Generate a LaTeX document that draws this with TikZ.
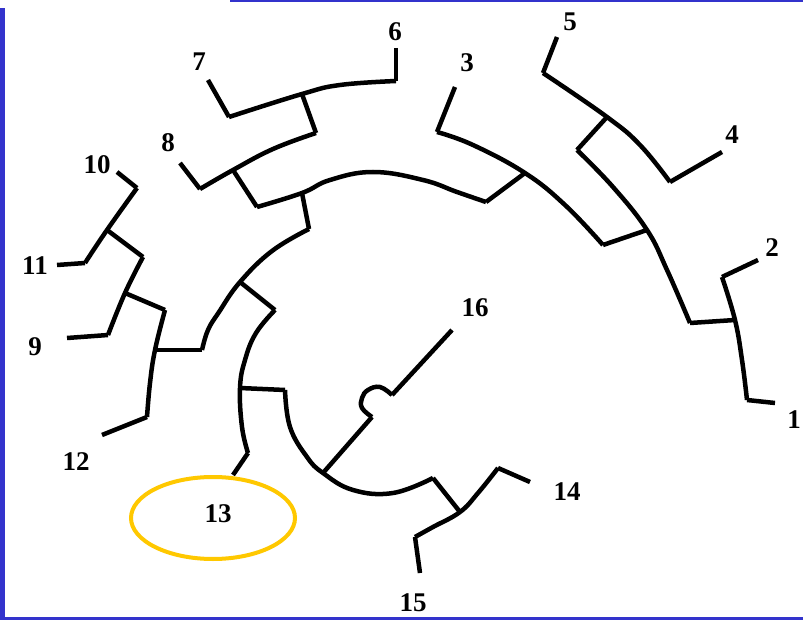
\documentclass[tikz,border=0pt]{standalone}
\usepackage{fontspec}
\setmainfont{Liberation Serif}
\definecolor{frameblue}{RGB}{51,51,204}
\definecolor{ringgold}{RGB}{255,200,0}

\begin{document}
\begin{tikzpicture}[x=1pt,y=-1pt]
\tikzset {branch/.style={line width=4.5pt,black},
          arc/.style={smooth,tension=0.7},
          leaf/.style={font=\bfseries\fontsize{27}{27}\selectfont,inner sep=0pt} }
\useasboundingbox (0,0) rectangle (803,620);
% frame
\fill[frameblue] (0,8) rectangle (5,620);
\fill[frameblue] (230,0) rectangle (803,2.5);
\fill[frameblue] (0,617) rectangle (803,620);
% leaf tips and bases
\coordinate (t1) at (775,403);  \coordinate (b1) at (747,400);
\coordinate (t2) at (758,260);  \coordinate (b2) at (722,277);
\coordinate (t3) at (455,87);   \coordinate (b3) at (437,132);
\coordinate (t4) at (722,152);  \coordinate (b4) at (670,182);
\coordinate (t5) at (557,37);   \coordinate (b5) at (543,73);
\coordinate (t6) at (396,48);   \coordinate (b6) at (396,81);
\coordinate (t7) at (208,80);   \coordinate (b7) at (229,117);
\coordinate (t8) at (180,163);  \coordinate (b8) at (200,189);
\coordinate (t9) at (67,338);   \coordinate (b9) at (108,335);
\coordinate (t10) at (117,172); \coordinate (b10) at (137,188);
\coordinate (t11) at (57,265);  \coordinate (b11) at (85,263);
\coordinate (t12) at (102,435); \coordinate (b12) at (147,417);
\coordinate (t13) at (233,475); \coordinate (b13) at (248,453);
\coordinate (t14) at (530,482); \coordinate (b14) at (498,468);
\coordinate (t15) at (420,573); \coordinate (b15) at (415,537);
\coordinate (t16) at (452,330);
% inner vertices
\coordinate (j67) at (302,94);   \coordinate (s678) at (316,133); \coordinate (j678) at (233,170);
\coordinate (stop) at (257,207); \coordinate (jtop) at (302,193); \coordinate (etop) at (486,202);
\coordinate (j3) at (525,173);   \coordinate (e3) at (603,245);
\coordinate (j45) at (607,117);  \coordinate (s12r) at (577,150); \coordinate (jr) at (647,230);
\coordinate (e12r) at (690,323); \coordinate (j12) at (735,320);
\coordinate (sl) at (309,229);   \coordinate (jl) at (240,282);   \coordinate (el) at (202,350);
\coordinate (j912) at (155,350); \coordinate (s912) at (165,310);
\coordinate (j911) at (125,293); \coordinate (s911) at (143,257);
\coordinate (j1011) at (107,230);
\coordinate (s13) at (275,310);  \coordinate (j13) at (240,388);
\coordinate (s14) at (285,390);  \coordinate (j16) at (323,473);  \coordinate (e14) at (433,478);
\coordinate (j1415) at (460,512);
\coordinate (w1) at (372,417);   \coordinate (w2) at (392,395);
% leaves
\foreach \i in {1,...,15} \draw[branch] (t\i) -- (b\i);
% arcs
\draw[branch] plot[arc] coordinates {(b7) (j67) (340,85) (b6)};
\draw[branch] plot[arc] coordinates {(s678) (273,149) (j678) (b8)};
\draw[branch] plot[arc] coordinates {(stop) (jtop) (330,180) (373,172) (423,180) (457,192) (etop)};
\draw[branch] plot[arc] coordinates {(b3) (473,145) (j3) (565,205) (e3)};
\draw[branch] plot[arc] coordinates {(b5) (j45) (640,145) (b4)};
\draw[branch] plot[arc] coordinates {(s12r) (613,187) (jr) (667,270) (e12r)};
\draw[branch] plot[arc] coordinates {(b2) (j12) (742,360) (b1)};
\draw[branch] plot[arc] coordinates {(sl) (272,251) (jl) (219,312) (208,330) (el)};
\draw[branch] plot[arc] coordinates {(s912) (j912) (150,383) (b12)};
\draw[branch] plot[arc] coordinates {(s911) (j911) (b9)};
\draw[branch] plot[arc] coordinates {(b10) (j1011) (b11)};
\draw[branch] plot[arc] coordinates {(s13) (256,333) (245,360) (j13) (242,427) (b13)};
\draw[branch] plot[arc] coordinates {(s14) (290,427) (307,457) (j16) (353,490) (393,493) (e14)};
\draw[branch] plot[arc] coordinates {(b14) (478,493) (j1415) (433,527) (b15)};
% stems
\draw[branch] (j67) -- (s678);
\draw[branch] (j678) -- (stop);
\draw[branch] (etop) -- (j3);
\draw[branch] (e3) -- (jr);
\draw[branch] (j45) -- (s12r);
\draw[branch] (e12r) -- (j12);
\draw[branch] (jtop) -- (sl);
\draw[branch] (el) -- (j912);
\draw[branch] (j911) -- (s912);
\draw[branch] (j1011) -- (s911);
\draw[branch] (jl) -- (s13);
\draw[branch] (j13) -- (s14);
\draw[branch] (e14) -- (j1415);
% branch 16 with its loop
\draw[branch] (j16) -- (w1);
\draw[branch] plot[arc] coordinates {(w1) (362,408) (362,398) (368,390) (380,387) (w2)};
\draw[branch] (w2) -- (t16);
% labels
\node[leaf] (l1) at (794,420) {1};
\node[leaf] (l2) at (772,248) {2};
\node[leaf] (l3) at (467,63) {3};
\node[leaf] (l4) at (732,135) {4};
\node[leaf] (l5) at (570,22) {5};
\node[leaf] (l6) at (395,32) {6};
\node[leaf] (l7) at (199,62) {7};
\node[leaf] (l8) at (168,143) {8};
\node[leaf] (l9) at (35,347) {9};
\node[leaf] (l10) at (97,165) {10};
\node[leaf] (l11) at (35,266) {11};
\node[leaf] (l12) at (76,462) {12};
\node[leaf] (l13) at (218,514) {13};
\node[leaf] (l14) at (567,492) {14};
\node[leaf] (l15) at (413,603) {15};
\node[leaf] (l16) at (475,308) {16};
% highlight
\draw[ringgold,line width=4pt] (213,518) ellipse [x radius=82, y radius=41];
\end{tikzpicture}
\end{document}
